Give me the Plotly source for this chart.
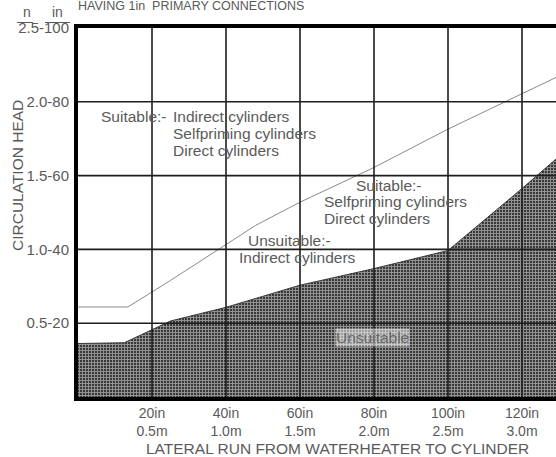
import plotly.graph_objects as go

# Data (lateral run in inches vs circulation head in inches)
upper_x = [0, 13.5, 25, 39, 48, 60, 80, 100, 115, 129.2]
upper_y = [24.4, 24.4, 31.6, 40.6, 46.5, 52.8, 62.2, 72.6, 79.8, 86.6]

shade_x = [0, 12.5, 25, 40, 60, 80, 100, 120, 129.2]
shade_y = [14.5, 14.7, 20.6, 24.3, 30.3, 34.8, 39.7, 56.5, 64.5]

x_tickvals = [20, 40, 60, 80, 100, 120]
x_ticktext = ["20in<br>0.5m", "40in<br>1.0m", "60in<br>1.5m", "80in<br>2.0m", "100in<br>2.5m", "120in<br>3.0m"]
y_tickvals = [20, 40, 60, 80, 100]
y_ticktext = ["0.5-20", "1.0-40", "1.5-60", "2.0-80", "2.5-100"]

TXT = "#5a5a5a"
FONT = "Liberation Sans"
FS = 15.5

W, H = 556, 457
L, T, B = 78, 28, 60
x_max = (W - L) / 3.7

fig = go.Figure()
fig.add_trace(go.Scatter(
    x=shade_x, y=shade_y, mode="lines", fill="tozeroy",
    line=dict(color="#3a3a3a", width=1),
    fillpattern=dict(shape="+", size=3, solidity=0.62, fgcolor="#f2f2f2", bgcolor="#303030"),
    hoverinfo="skip", showlegend=False))
fig.add_trace(go.Scatter(
    x=upper_x, y=upper_y, mode="lines",
    line=dict(color="#8a8a8a", width=1),
    hoverinfo="skip", showlegend=False))

# grid drawn over the shaded area, built from the tick arrays
gx, gy = [], []
for v in x_tickvals:
    gx += [v, v, None]
    gy += [0, 100, None]
for v in y_tickvals[:-1]:
    gx += [0, x_max, None]
    gy += [v, v, None]
fig.add_trace(go.Scatter(x=gx, y=gy, mode="lines",
                         line=dict(color="#1e1e1e", width=1.6),
                         hoverinfo="skip", showlegend=False))

fig.update_layout(
    width=W, height=H,
    margin=dict(l=L, r=0, t=T, b=B, autoexpand=False),
    paper_bgcolor="white", plot_bgcolor="white",
    font=dict(family=FONT, size=FS, color=TXT),
    xaxis=dict(range=[0, x_max], tickvals=x_tickvals, ticktext=x_ticktext,
               showgrid=False,
               showline=True, linecolor="black", linewidth=4, mirror=True,
               zeroline=False, ticks="", ticklabelstandoff=0,
               tickfont=dict(size=14, color=TXT)),
    yaxis=dict(range=[0, 100], tickvals=y_tickvals, ticktext=y_ticktext,
               showgrid=False,
               showline=True, linecolor="black", linewidth=4,
               zeroline=False, ticks="", ticklabelstandoff=2,
               tickfont=dict(size=15, color=TXT)),
)

def px2x(p):
    return (p - L) / (W - L)

def py2y(p):
    return 1 + (T - p) / (H - T - B)

ann = [
    ("HAVING 1in  PRIMARY CONNECTIONS", 77, 6, "left", 12.5),
    ("n", 26.5, 12.5, "center", 14),
    ("in", 57.5, 12.5, "center", 14),
    ("Suitable:-", 100, 117, "left", FS),
    ("Indirect cylinders", 172, 117, "left", FS),
    ("Selfpriming cylinders", 172, 133, "left", FS),
    ("Direct cylinders", 172, 150, "left", FS),
    ("Suitable:-", 355, 185, "left", FS),
    ("Selfpriming cylinders", 323, 201.5, "left", FS),
    ("Direct cylinders", 323, 218, "left", FS),
    ("Unsuitable:-", 247, 240, "left", FS),
    ("Indirect cylinders", 238, 257, "left", FS),
    ("LATERAL RUN FROM WATERHEATER TO CYLINDER", 337, 448, "center", FS),
]
for text, xp, yp, al, fs in ann:
    fig.add_annotation(text=text, xref="paper", yref="paper",
                       x=px2x(xp), y=py2y(yp), xanchor=al, yanchor="middle",
                       align="left", showarrow=False, borderpad=0,
                       font=dict(family=FONT, size=fs, color=TXT))
fig.add_annotation(text="CIRCULATION HEAD", xref="paper", yref="paper",
                   x=px2x(17), y=py2y(176), xanchor="center", yanchor="middle",
                   textangle=-90, showarrow=False,
                   font=dict(family=FONT, size=FS, color=TXT))
fig.add_annotation(text="Unsuitable", xref="paper", yref="paper",
                   x=px2x(372.5), y=py2y(337), xanchor="center", yanchor="middle",
                   showarrow=False, bgcolor="rgba(255,255,255,0.5)", borderpad=0,
                   font=dict(family=FONT, size=FS, color="#666666"))

for x0, x1 in [(17, 33), (45, 70)]:
    fig.add_shape(type="line", xref="paper", yref="paper",
                  x0=px2x(x0), x1=px2x(x1), y0=py2y(22.5), y1=py2y(22.5),
                  line=dict(color=TXT, width=1))

fig.write_html("out.html", config={"displayModeBar": False},
               post_script="document.body.style.margin='0';")
